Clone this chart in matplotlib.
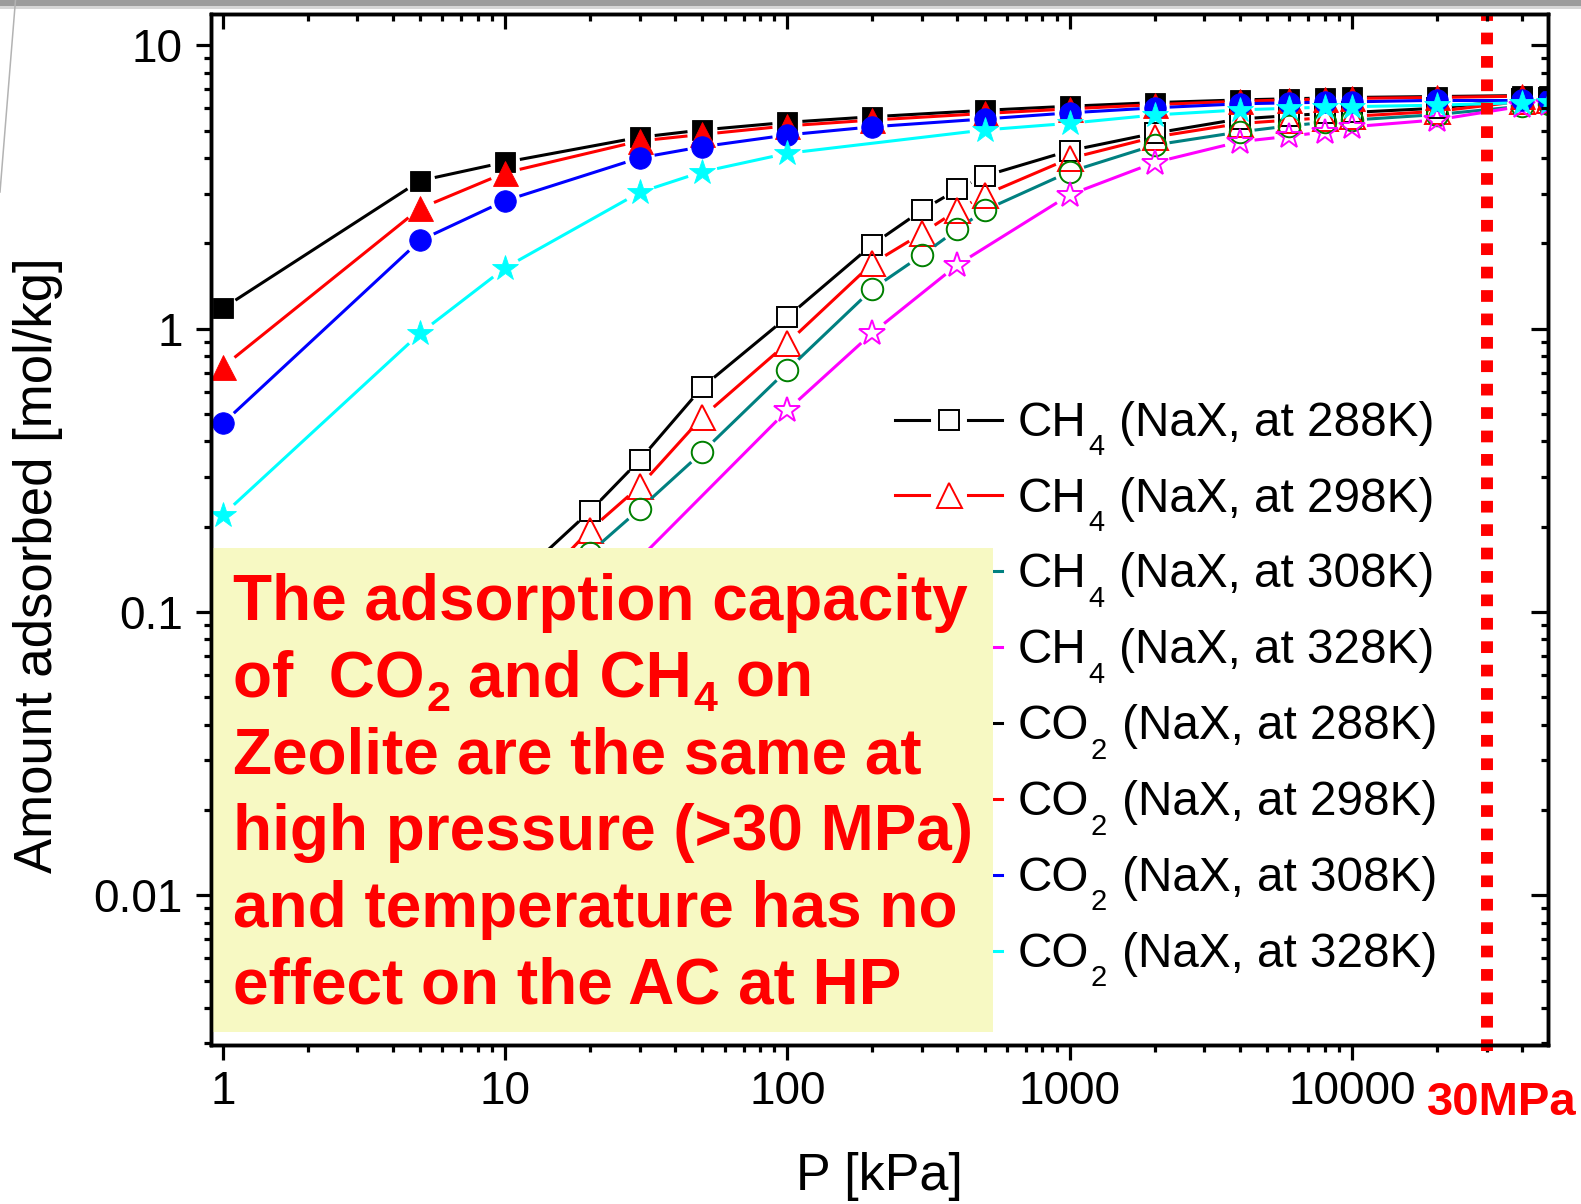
import numpy as np
import matplotlib
matplotlib.use("Agg")
import matplotlib.pyplot as plt
from matplotlib.lines import Line2D
from matplotlib.patches import Rectangle
from matplotlib.collections import LineCollection
from matplotlib.ticker import FixedLocator, LogLocator, NullFormatter, FuncFormatter

plt.rcParams["font.family"] = ["Liberation Sans", "DejaVu Sans"]

# ---- data: pressure [kPa] and amount adsorbed [mol/kg] on NaX ----
p_co2 = [1, 5, 10, 30, 50, 100, 200, 500, 1000, 2000, 4000, 6000, 8000, 10000, 20000, 40000, 50000]
p_co2_328 = [1, 5, 10, 30, 50, 100, 500, 1000, 2000, 4000, 6000, 8000, 10000, 20000, 40000, 50000]
p_ch4 = [1, 5, 10, 20, 30, 50, 100, 200, 300, 400, 500, 1000, 2000, 4000, 6000, 8000, 10000, 20000, 40000, 50000]
p_ch4_328 = [1, 5, 10, 20, 100, 200, 400, 1000, 2000, 4000, 6000, 8000, 10000, 20000, 40000, 50000]

co2_288 = [1.18, 3.33, 3.87, 4.74, 5.03, 5.35, 5.6, 5.9, 6.1, 6.28, 6.42, 6.48, 6.52, 6.55, 6.6, 6.65, 6.65]
co2_298 = [0.733, 2.66, 3.55, 4.6, 4.85, 5.2, 5.45, 5.75, 5.97, 6.18, 6.35, 6.42, 6.46, 6.5, 6.55, 6.62, 6.62]
co2_308 = [0.463, 2.05, 2.83, 4.01, 4.39, 4.83, 5.16, 5.5, 5.78, 6.02, 6.22, 6.27, 6.3, 6.32, 6.4, 6.4, 6.4]
co2_328 = [0.22, 0.964, 1.64, 3.03, 3.58, 4.16, 5.03, 5.31, 5.68, 5.92, 6.0, 6.05, 6.08, 6.15, 6.28, 6.3]

ch4_288 = [0.0119, 0.059, 0.12, 0.227, 0.344, 0.622, 1.1, 1.98, 2.62, 3.1, 3.46, 4.25, 4.9, 5.5, 5.65, 5.75, 5.8, 6.0, 6.45, 6.5]
ch4_298 = [0.0094, 0.047, 0.095, 0.195, 0.278, 0.488, 0.89, 1.70, 2.17, 2.62, 2.97, 3.99, 4.75, 5.3, 5.45, 5.55, 5.62, 5.85, 6.35, 6.4]
ch4_308 = [0.0075, 0.037, 0.076, 0.162, 0.231, 0.367, 0.715, 1.38, 1.82, 2.24, 2.62, 3.58, 4.45, 4.95, 5.2, 5.35, 5.45, 5.7, 6.1, 6.2]
ch4_328 = [0.0055, 0.027, 0.053, 0.103, 0.516, 0.966, 1.68, 2.97, 3.86, 4.57, 4.78, 4.95, 5.16, 5.46, 6.1, 6.2]

# legend labels as (formula, subscript, rest)
labels = [
    ("CH", "4", "(NaX, at 288K)"),
    ("CH", "4", "(NaX, at 298K)"),
    ("CH", "4", "(NaX, at 308K)"),
    ("CH", "4", "(NaX, at 328K)"),
    ("CO", "2", "(NaX, at 288K)"),
    ("CO", "2", "(NaX, at 298K)"),
    ("CO", "2", "(NaX, at 308K)"),
    ("CO", "2", "(NaX, at 328K)"),
]
x_ticks = [1, 10, 100, 1000, 10000]
y_ticks = [0.01, 0.1, 1, 10]
# note text: each line is a list of (text, is_subscript)
note_lines = [
    [("The adsorption capacity", False)],
    [("of  CO", False), ("2", True), ("and CH", False), ("4", True), ("on", False)],
    [("Zeolite are the same at", False)],
    [("high pressure (>30 MPa)", False)],
    [("and temperature has no", False)],
    [("effect on the AC at HP", False)],
]
p_limit = 30000  # 30 MPa

# ---- styles ----
# (x, y, line colour, marker, marker colour, filled, marker size)
series = [
    (p_ch4, ch4_288, "black", "s", "black", False, 14.5),
    (p_ch4, ch4_298, "red", "^", "red", False, 18),
    (p_ch4, ch4_308, "#008080", "o", "#008000", False, 15.5),
    (p_ch4_328, ch4_328, "magenta", "*", "magenta", False, 19),
    (p_co2, co2_288, "black", "s", "black", True, 14.5),
    (p_co2, co2_298, "red", "^", "red", True, 18),
    (p_co2, co2_308, "blue", "o", "blue", True, 15.5),
    (p_co2_328, co2_328, "cyan", "*", "cyan", True, 19),
]

W, H, DPI = 1581, 1204, 100
fig = plt.figure(figsize=(W / DPI, H / DPI), dpi=DPI)
fig.patch.set_facecolor("white")


def fx(px):
    return px / W


def fy(py):
    return 1 - py / H


def px2pt(px):
    return px * 72.0 / DPI


ax_left, ax_right, ax_top, ax_bottom = 210.7, 1547.7, 13.5, 1044.6
ax = fig.add_axes([fx(ax_left), fy(ax_bottom), fx(ax_right - ax_left), (ax_bottom - ax_top) / H])
ax.set_xscale("log")
ax.set_yscale("log")
XLIM = (0.906, 49360)
YLIM = (0.00297, 12.96)
ax.set_xlim(*XLIM)
ax.set_ylim(*YLIM)

LW = 2.2
GAP = 15  # pixels between line end and symbol centre


def gapped_segments(xs, ys, gap):
    pts = ax.transData.transform(np.column_stack([xs, ys]))
    inv = ax.transData.inverted()
    segs = []
    for a, b in zip(pts[:-1], pts[1:]):
        d = b - a
        length = np.hypot(d[0], d[1])
        if length <= 2 * gap:
            continue
        u = d / length
        segs.append(inv.transform(np.vstack([a + u * gap, b - u * gap])))
    return segs


for i, (xs, ys, lc, mk, mc, filled, ms) in enumerate(series):
    z = 3 + i * 0.2
    segs = gapped_segments(xs, ys, GAP)
    ax.add_collection(LineCollection(segs, colors=lc, linewidths=LW, zorder=z, capstyle="butt"))
    ax.plot(xs, ys, ls="none", marker=mk, ms=ms,
            mfc=mc if filled else "none", mec=mc,
            mew=0.6 if filled else 1.4, zorder=z + 0.1)

# 30 MPa marker line
ax.axvline(p_limit, ymin=-0.006, ymax=1, color="red", lw=8.6,
           ls=(0, (0.98, 0.98)), clip_on=False, zorder=8)

# ---- axes styling ----
fmt = FuncFormatter(lambda v, _: f"{v:g}")
ax.xaxis.set_major_locator(FixedLocator(x_ticks))
ax.yaxis.set_major_locator(FixedLocator(y_ticks))
ax.xaxis.set_major_formatter(fmt)
ax.yaxis.set_major_formatter(fmt)
ax.xaxis.set_minor_locator(LogLocator(base=10, subs=np.arange(2, 10), numticks=30))
ax.yaxis.set_minor_locator(LogLocator(base=10, subs=np.arange(2, 10), numticks=30))
ax.xaxis.set_minor_formatter(NullFormatter())
ax.yaxis.set_minor_formatter(NullFormatter())
ax.tick_params(which="major", direction="out", length=11, width=2.3, labelsize=33)
ax.tick_params(which="minor", direction="out", length=5.3, width=2.3)
ax.tick_params(axis="x", which="major", pad=7)
ax.tick_params(axis="y", which="major", pad=9)
for sp in ax.spines.values():
    sp.set_linewidth(2.4)

axt = ax.twiny()
axt.set_xscale("log")
axt.set_xlim(*XLIM)
axt.xaxis.set_major_locator(FixedLocator(x_ticks))
axt.xaxis.set_minor_locator(LogLocator(base=10, subs=np.arange(2, 10), numticks=30))
axt.xaxis.set_minor_formatter(NullFormatter())
axt.tick_params(axis="x", which="major", direction="in", length=10.5, width=2.3, labeltop=False)
axt.tick_params(axis="x", which="minor", direction="in", length=5.3, width=2.3)
axr = ax.twinx()
axr.set_yscale("log")
axr.set_ylim(*YLIM)
axr.yaxis.set_major_locator(FixedLocator(y_ticks))
axr.yaxis.set_minor_locator(LogLocator(base=10, subs=np.arange(2, 10), numticks=30))
axr.yaxis.set_minor_formatter(NullFormatter())
axr.tick_params(axis="y", which="major", direction="in", length=12, width=2.3, labelright=False)
axr.tick_params(axis="y", which="minor", direction="in", length=5.3, width=2.3)
for a in (axt, axr):
    for sp in a.spines.values():
        sp.set_linewidth(2.4)

ax.set_xlabel("P [kPa]", fontsize=37.5, va="center")
ax.xaxis.set_label_coords(0.5, -0.1284)
ax.set_ylabel("Amount adsorbed [mol/kg]", fontsize=38, va="center")
ax.yaxis.set_label_coords(-0.129, 0.4651)


def chem_text(x_px, base_px, parts, size, sub_size, sub_drop_px, sub_gap_px, after_gap_px,
              space_px, zorder, **kw):
    """Write a run of text pieces, lowering the subscript pieces."""
    prev = None
    prev_sub = False
    for s, is_sub in parts:
        y = fy(base_px + (sub_drop_px if is_sub else 0))
        fs = sub_size if is_sub else size
        if prev is None:
            prev = ax.text(fx(x_px), y, s, fontsize=fs, va="baseline", ha="left",
                           transform=fig.transFigure, zorder=zorder, **kw)
        else:
            dx = sub_gap_px if is_sub else (after_gap_px if prev_sub else space_px)
            prev = ax.annotate(s, xy=(1, y), xycoords=(prev, fig.transFigure),
                               xytext=(px2pt(dx), 0), textcoords="offset points",
                               fontsize=fs, va="baseline", ha="left",
                               annotation_clip=False, zorder=zorder, **kw)
        prev_sub = is_sub


# ---- legend (drawn under the note box) ----
row_c0, row_b0, row_dy = 419.5, 435.6, 75.9
for i, ((xs, ys, lc, mk, mc, filled, ms), (formula, sub, rest)) in enumerate(zip(series, labels)):
    yc = row_c0 + i * row_dy
    for x0, x1 in ((895, 929), (968, 1002)):
        ax.add_line(Line2D([fx(x0), fx(x1)], [fy(yc), fy(yc)], color=lc, lw=LW,
                           transform=fig.transFigure, clip_on=False, zorder=6))
    ax.add_line(Line2D([fx(948.5)], [fy(yc)], ls="none", marker=mk, ms=ms,
                       mfc=mc if filled else "none", mec=mc, mew=0.6 if filled else 1.4,
                       transform=fig.transFigure, clip_on=False, zorder=6))
    chem_text(1018, row_b0 + i * row_dy, [(formula, False), (sub, True), (rest, False)],
              size=34.3, sub_size=21, sub_drop_px=19.5, sub_gap_px=1.5, after_gap_px=15,
              space_px=13, zorder=6, color="black")

# ---- note box ----
box_x0, box_x1, box_y0, box_y1 = 213.2, 993, 548.3, 1031.7
ax.add_patch(Rectangle((fx(box_x0), fy(box_y1)), fx(box_x1 - box_x0), (box_y1 - box_y0) / H,
                       transform=fig.transFigure, facecolor="#F7F9C3", edgecolor="none",
                       clip_on=False, zorder=10))
for i, parts in enumerate(note_lines):
    chem_text(233, 620 + i * 76.7, parts, size=46, sub_size=31, sub_drop_px=14,
              sub_gap_px=1.5, after_gap_px=18, space_px=18, zorder=11,
              color="red", fontweight="bold")

fig.text(fx(1502), fy(1115), "30MPa", fontsize=34, fontweight="bold", color="red",
         ha="center", va="baseline")

# slide frame remnants around the picture
fig.add_artist(Rectangle((0, fy(6)), 1, 6 / H, transform=fig.transFigure,
                         facecolor="#9c9c9c", edgecolor="none"))
fig.add_artist(Rectangle((0, fy(8.5)), 1, 2.5 / H, transform=fig.transFigure,
                         facecolor="#d6d6d6", edgecolor="none"))
fig.add_artist(Line2D([fx(15.5), fx(0)], [fy(0), fy(192)], color="#b3b3b3", lw=1.1,
                      transform=fig.transFigure))

fig.savefig("out.png", dpi=DPI)
